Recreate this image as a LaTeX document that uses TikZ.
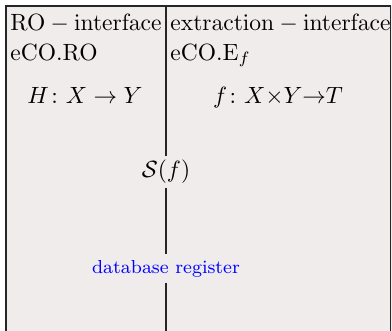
\documentclass[tikz,border=0pt]{standalone}
\usepackage{amsmath}
\definecolor{bgfill}{HTML}{EFECEB}
\begin{document}
\begin{tikzpicture}[x=0.4255pt,y=-0.4255pt,
  lbl/.style={inner sep=0pt,anchor=base west},
  mathlbl/.style={inner sep=0pt,anchor=base},
  cut/.style={fill=bgfill,inner sep=1.4pt},
  frame/.style={line width=0.55pt,draw=black!85}]
\useasboundingbox (0,0) rectangle (392,331);
\fill[white] (0,0) rectangle (392,331);
\fill[bgfill] (6,6) rectangle (392,331);
\draw[frame] (6,331) -- (6,6) -- (390.5,6) -- (390.5,331);
% labels
\node[lbl] (roif) at (10,30) {$\mathrm{RO}-\mathrm{interface}$};
\node[lbl] (exif) at (170,30) {$\mathrm{extraction}-\mathrm{interface}$};
\node[lbl] (ecoro) at (10,60) {eCO.RO};
\node[lbl] (ecoe) at (170,60) {eCO.E$_f$};
\node[mathlbl] (hmap) at (85,103) {$H\colon X\to Y$};
\node[mathlbl] (fmap) at (278,103) {$f\colon X{\times}Y{\to}T$};
\node[cut] (sf) at (166,172) {$\mathcal{S}(f)$};
\node[cut,text=blue,inner sep=2.2pt,font=\footnotesize] (db) at (166,268.5) {database register};
\coordinate (top) at (166,6);
\coordinate (bot) at (166,331);
\draw[frame] (top) -- (sf.north);
\draw[frame] (sf.south) -- (db.north);
\draw[frame] (db.south) -- (bot);
\end{tikzpicture}
\end{document}
